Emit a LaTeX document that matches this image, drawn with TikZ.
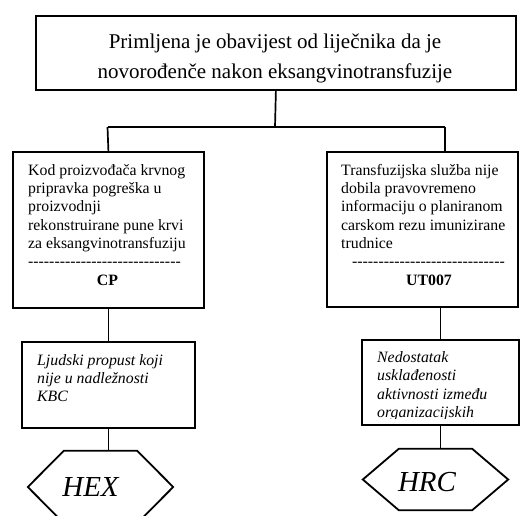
\documentclass[tikz,border=0pt]{standalone}
\usepackage{fontspec}
\setmainfont{Liberation Serif}
\newfontfamily\dashfont{Liberation Serif}[Ligatures=TeXOff]
\begin{document}
\begin{tikzpicture}[x=1pt,y=-1pt,
  box/.style={draw, line width=1.8pt, inner sep=0pt, anchor=north west},
  conn/.style={line width=1.7pt},
  hexbox/.style={inner sep=0pt, minimum width=73pt},
  hexline/.style={line width=1.8pt, line join=miter},
  bodytext/.style={font=\fontsize{15.8}{18.3}\selectfont, align=left, inner sep=0pt, anchor=north west},
  ittext/.style={font=\fontsize{15.8}{18.3}\selectfont\itshape, align=left, inner sep=0pt, anchor=north west},
  dashes/.style={font=\fontsize{15.8}{18.3}\dashfont, inner sep=0pt, anchor=base west},
  code/.style={font=\fontsize{15.8}{18.3}\selectfont\bfseries, inner sep=0pt, anchor=base},
  big/.style={font=\fontsize{29}{32}\selectfont\itshape, inner sep=0pt, anchor=base}
]
\useasboundingbox (0,0) rectangle (520,515);
\clip (0,0) rectangle (520,515);

% boxes
\node[box, minimum width=480pt, minimum height=74pt] (top) at (35,15) {};
\node[box, minimum width=191pt, minimum height=156pt] (cp) at (12,151) {};
\node[box, minimum width=191pt, minimum height=155pt] (ut) at (326,151) {};
\node[box, minimum width=173pt, minimum height=86pt] (lj) at (21,341) {};
\node[box, minimum width=157pt, minimum height=85pt] (nd) at (361,339) {};

% hexagons
\node[hexbox, minimum height=72pt] (hexl) at (100.5,487) {};
\node[hexbox, minimum height=61pt] (hexr) at (435.5,479.5) {};
\draw[hexline] (hexl.north west) -- (hexl.north east) -- ([xshift=36pt]hexl.east)
  -- (hexl.south east) -- (hexl.south west) -- ([xshift=-36pt]hexl.west) -- cycle;
\draw[hexline] (hexr.north west) -- (hexr.north east) -- ([xshift=36pt]hexr.east)
  -- (hexr.south east) -- (hexr.south west) -- ([xshift=-36pt]hexr.west) -- cycle;

% texts
\node[font=\fontsize{21}{30}\selectfont, align=center, inner sep=0pt, anchor=north] (toptext) at (275,33.5)
  {Primljena je obavijest od liječnika da je\\novorođenče nakon eksangvinotransfuzije};

\node[bodytext] (cptext) at (28,164)
  {Kod proizvođača krvnog\\pripravka pogreška u\\proizvodnji\\rekonstruirane pune krvi\\za eksangvinotransfuziju};
\node[dashes] (cpdash) at (28,266) {-----------------------------};
\node[code] (cpcode) at (107.5,285) {CP};

\node[bodytext] (uttext) at (341,164)
  {Transfuzijska služba nije\\dobila pravovremeno\\informaciju o planiranom\\carskom rezu imunizirane\\trudnice};
\node[dashes] (utdash) at (352,266) {-----------------------------};
\node[code] (utcode) at (429,285) {UT007};

\node[ittext] (ljtext) at (37,354)
  {Ljudski propust koji\\nije u nadležnosti\\KBC};

\begin{scope}
  \clip (362,340) rectangle (517,418.5);
  \node[ittext] (ndtext) at (377,351.5)
    {Nedostatak\\usklađenosti\\aktivnosti između\\organizacijskih};
\end{scope}

\node[big] (hext) at (90.5,496) {HEX};
\node[big] (hrct) at (427,491) {HRC};

% connectors
\coordinate (j) at (275,127);
\coordinate (jl) at (107.5,127);
\coordinate (jr) at (445,127);
\draw[conn] (top.south) -- (j);
\draw[conn] (jl) -- (jr);
\draw[conn] (jl) -- (cp.north);
\draw[conn] (jr) -- (ut.north -| jr);
\draw[conn] (cp.south) -- (lj.north);
\draw[conn] (lj.south) -- (lj.south |- hexl.north);
\draw[conn] (ut.south -| nd.north) -- (nd.north);
\draw[conn] (nd.south) -- (nd.south |- hexr.north);
\end{tikzpicture}
\end{document}
